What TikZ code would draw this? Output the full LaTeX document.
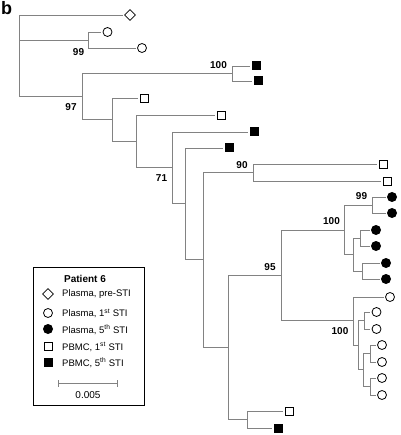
\documentclass[tikz,border=0pt]{standalone}
\usepackage{fontspec}
\setmainfont{Liberation Sans}
\usetikzlibrary{shapes.geometric}
\definecolor{ln}{RGB}{130,130,130}
\tikzset{
  br/.style={draw=ln, line width=0.75pt},
  lf/.style={br, shorten >=1.2pt},
  ocirc/.style={circle, draw=black, line width=0.8pt, minimum size=9pt, inner sep=0pt},
  fcirc/.style={circle, fill=black, minimum size=10pt, inner sep=0pt},
  osq/.style={rectangle, draw=black, line width=0.8pt, minimum size=8pt, inner sep=0pt},
  fsq/.style={rectangle, fill=black, minimum size=9pt, inner sep=0pt},
  odia/.style={diamond, draw=black, line width=0.8pt, minimum size=11pt, inner sep=0pt},
  bs/.style={font=\fontsize{10}{10}\selectfont\bfseries, inner sep=0pt},
  lgt/.style={font=\fontsize{9.5}{9.5}\selectfont, inner sep=0pt, anchor=west},
}
\begin{document}
\begin{tikzpicture}[x=1pt,y=-1pt]
\useasboundingbox (0,0) rectangle (400,435);
\node[font=\fontsize{18}{18}\selectfont\bfseries, inner sep=0pt] (b) at (6.5,8) {b};
% internal nodes
\coordinate (R) at (19,55);
\coordinate (A) at (88,40);
\coordinate (B) at (82,96);
\coordinate (E) at (232,73.5);
\coordinate (N1) at (112,119.5);
\coordinate (N2) at (136,141);
\coordinate (N3) at (172,167);
\coordinate (N4) at (185,203.5);
\coordinate (N5) at (203,259.5);
\coordinate (G) at (253,172.5);
\coordinate (N6) at (228,347);
\coordinate (N7) at (281,275);
\coordinate (N8) at (344,230);
\coordinate (K) at (372,205);
\coordinate (N9) at (353,254.5);
\coordinate (N10) at (360,238);
\coordinate (N11) at (362,271);
\coordinate (N12) at (353,320.5);
\coordinate (N13) at (358,345);
\coordinate (N14) at (364,320.5);
\coordinate (N15) at (363,369.5);
\coordinate (N16) at (370,353.5);
\coordinate (N17) at (370,386.5);
\coordinate (H) at (247,419.5);
% leaves
\node[odia] (D1) at (130,15) {};
\node[ocirc] (C1) at (107.5,32) {};
\node[ocirc] (C2) at (142,48) {};
\node[fsq] (Q1) at (256,66) {};
\node[fsq] (Q2) at (258,81) {};
\node[osq] (S1) at (144,98) {};
\node[osq] (S2) at (221,115) {};
\node[fsq] (Q3) at (254,132) {};
\node[fsq] (Q4) at (229,148) {};
\node[osq] (S3) at (383,164.5) {};
\node[osq] (S4) at (387,181) {};
\node[fcirc] (F1) at (392,197) {};
\node[fcirc] (F2) at (392,213) {};
\node[fcirc] (F3) at (376,230) {};
\node[fcirc] (F4) at (376,246) {};
\node[fcirc] (F5) at (386,263) {};
\node[fcirc] (F6) at (386,279) {};
\node[ocirc] (C3) at (390,297) {};
\node[ocirc] (C4) at (376.5,312) {};
\node[ocirc] (C5) at (376.5,329) {};
\node[ocirc] (C6) at (382,345) {};
\node[ocirc] (C7) at (382,362) {};
\node[ocirc] (C8) at (382,378) {};
\node[ocirc] (C9) at (382,395) {};
\node[osq] (S5) at (289,411) {};
\node[fsq] (Q5) at (278,428) {};
% branches
\draw[lf] (R) |- (D1.west);
\draw[br] (R) |- (A);
\draw[br] (R) |- (B);
\draw[lf] (A) |- (C1.west);
\draw[lf] (A) |- (C2.west);
\draw[br] (B) |- (E);
\draw[br] (B) |- (N1);
\draw[lf] (E) |- (Q1.west);
\draw[lf] (E) |- (Q2.west);
\draw[lf] (N1) |- (S1.west);
\draw[br] (N1) |- (N2);
\draw[lf] (N2) |- (S2.west);
\draw[br] (N2) |- (N3);
\draw[lf] (N3) |- (Q3.west);
\draw[br] (N3) |- (N4);
\draw[lf] (N4) |- (Q4.west);
\draw[br] (N4) |- (N5);
\draw[br] (N5) |- (G);
\draw[br] (N5) |- (N6);
\draw[lf] (G) |- (S3.west);
\draw[lf] (G) |- (S4.west);
\draw[br] (N6) |- (N7);
\draw[br] (N6) |- (H);
\draw[br] (N7) |- (N8);
\draw[br] (N7) |- (N12);
\draw[br] (N8) |- (K);
\draw[br] (N8) |- (N9);
\draw[lf] (K) |- (F1.west);
\draw[lf] (K) |- (F2.west);
\draw[br] (N9) |- (N10);
\draw[br] (N9) |- (N11);
\draw[lf] (N10) |- (F3.west);
\draw[lf] (N10) |- (F4.west);
\draw[lf] (N11) |- (F5.west);
\draw[lf] (N11) |- (F6.west);
\draw[lf] (N12) |- (C3.west);
\draw[br] (N12) |- (N13);
\draw[br] (N13) |- (N14);
\draw[br] (N13) |- (N15);
\draw[lf] (N14) |- (C4.west);
\draw[lf] (N14) |- (C5.west);
\draw[br] (N15) |- (N16);
\draw[br] (N15) |- (N17);
\draw[lf] (N16) |- (C6.west);
\draw[lf] (N16) |- (C7.west);
\draw[lf] (N17) |- (C8.west);
\draw[lf] (N17) |- (C9.west);
\draw[lf] (H) |- (S5.west);
\draw[lf] (H) |- (Q5.west);
% bootstrap labels
\node[bs] (l99a) at (78.5,52) {99};
\node[bs] (l97) at (71,107.5) {97};
\node[bs] (l100a) at (218.5,65.5) {100};
\node[bs] (l71) at (161.5,178.5) {71};
\node[bs] (l90) at (242,165) {90};
\node[bs] (l95) at (270,267.5) {95};
\node[bs] (l100b) at (331.5,221.5) {100};
\node[bs] (l99b) at (361.5,196.5) {99};
\node[bs] (l100c) at (340,331.5) {100};
% legend
\node[draw=black, line width=0.8pt, minimum width=111pt, minimum height=138pt, inner sep=0pt] (box) at (88.5,336) {};
\node[font=\fontsize{10}{10}\selectfont\bfseries, inner sep=0pt] (title) at (85,278.5) {Patient 6};
\node[odia] (k1) at (48,294) {};
\node[ocirc] (k2) at (48,313) {};
\node[fcirc] (k3) at (48,329) {};
\node[osq] (k4) at (48,346.5) {};
\node[fsq] (k5) at (48,362) {};
\node[lgt] (t1) at (62,294.5) {Plasma, pre-STI};
\node[lgt] (t2) at (62,313.5) {Plasma, 1\textsuperscript{st} STI};
\node[lgt] (t3) at (62,330) {Plasma, 5\textsuperscript{th} STI};
\node[lgt] (t4) at (62,347) {PBMC, 1\textsuperscript{st} STI};
\node[lgt] (t5) at (62,363) {PBMC, 5\textsuperscript{th} STI};
\coordinate (s1) at (58.5,383);
\coordinate (s2) at (117.5,383);
\draw[br] (s1) -- (s2);
\draw[br] ([yshift=-3.5pt]s1) -- ([yshift=3.5pt]s1);
\draw[br] ([yshift=-3.5pt]s2) -- ([yshift=3.5pt]s2);
\node[font=\fontsize{10}{10}\selectfont, inner sep=0pt] (sl) at (88,395) {0.005};
\end{tikzpicture}
\end{document}
